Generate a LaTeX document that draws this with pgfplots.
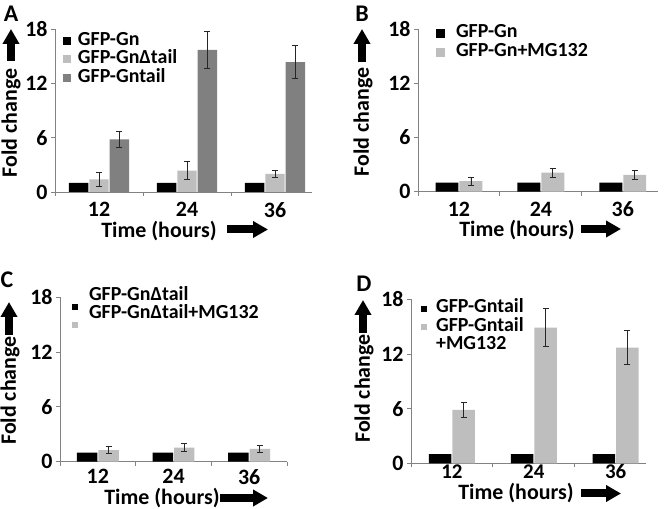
\documentclass[border=0pt]{standalone}
\usepackage{fontspec}
\setmainfont{Carlito}
\usepackage{pgfplots}
\pgfplotsset{compat=1.18}
\usetikzlibrary{arrows.meta}
\definecolor{lg}{RGB}{190,190,190}
\definecolor{dg}{RGB}{128,128,128}
\definecolor{ax}{RGB}{130,130,130}
\pgfplotsset{
  panel/.style={
    scale only axis,
    axis lines*=left,
    axis line style={ax, line width=0.9pt},
    ymin=0, ymax=18, ytick={0,6,12,18},
    xmin=-0.5,
    xtick={0,1,2}, xticklabels={12,24,36},
    minor xtick={-0.5,0.5,1.5,2.5},
    tick align=outside,
    major tick length=4bp, minor tick length=4bp,
    major x tick style={draw=none},
    minor x tick style={ax, line width=0.9pt},
    major y tick style={ax, line width=0.9pt},
    ticklabel style={font=\fontsize{22}{26}\selectfont\bfseries},
    xticklabel style={inner sep=1bp, yshift=-5bp},
    /pgf/number format/assume math mode=true,
    ybar=1bp,
    clip=false,
    legend style={draw=none, fill=none, inner sep=0pt, outer sep=0pt,
      font=\fontsize{20}{23}\selectfont\bfseries, anchor=north west,
      nodes={inner sep=0pt, text height=13bp, text depth=4.5bp},
      row sep=1bp},
    legend cell align=left,
  },
  eb/.style={error bars/.cd, y dir=both, y explicit,
    error bar style={black!85, line width=0.8pt},
    error mark options={rotate=90, black!85, mark size=3bp, line width=0.8pt}},
}
\newcommand{\ylab}[2]{%
  \node[rotate=90, inner sep=1bp, font=\fontsize{22}{26}\selectfont\bfseries] at (#1,#2) {Fold change};}
\newcommand{\xlab}[2]{%
  \node[inner sep=0bp, font=\fontsize{22}{26}\selectfont\bfseries] at (#1,#2) {Time (hours)};}
\newcommand{\harrow}[3]{%
  \draw[-{Triangle[width=16bp,length=15bp]}, line width=8bp] (#1,#3) -- (#2,#3);}
\newcommand{\varrow}[3]{%
  \draw[-{Triangle[width=16bp,length=15bp]}, line width=8bp] (#1,#2) -- (#1,#3);}
\newcommand{\plab}[3]{%
  \node[font=\fontsize{24}{28}\selectfont\bfseries] at (#1,#2) {#3};}
\begin{document}
\begin{tikzpicture}[x=1bp,y=1bp]
\path[use as bounding box] (0,0) rectangle (666,509);

% Panel A
\begin{axis}[panel, at={(55bp,317bp)}, anchor=south west,
  width=257bp, height=163bp, xmax=2.42, bar width=0.22,
  legend image code/.code={\fill[#1] (0bp,-4bp) rectangle (8bp,4bp);},
  legend style={at={(rel axis cs:0.031,0.98)},
    /tikz/every odd column/.append style={column sep=7bp}}]
\addplot[fill=black, draw=none] coordinates {(0,1) (1,1) (2,1)};
\addplot[fill=lg, draw=none, eb] coordinates {(0,1.4) +- (0,0.75) (1,2.35) +- (0,1.0) (2,2.0) +- (0,0.4)};
\addplot[fill=dg, draw=none, eb] coordinates {(0,5.8) +- (0,0.85) (1,15.7) +- (0,2.05) (2,14.35) +- (0,1.85)};
\legend{GFP-Gn, GFP-GnΔtail, GFP-Gntail}
\end{axis}
\plab{11}{495}{A}
\ylab{11}{386}
\varrow{11}{448}{480}
\xlab{159}{278}
\harrow{227}{268}{279.5}

% Panel B
\begin{axis}[panel, at={(418bp,317.3bp)}, anchor=south west,
  width=240bp, height=162.7bp, xmax=2.43, bar width=0.28,
  legend image code/.code={\fill[#1] (0bp,-4.5bp) rectangle (9bp,4.5bp);},
  legend style={at={(rel axis cs:0.075,1.025)},
    /tikz/every odd column/.append style={column sep=11bp}}]
\addplot[fill=black, draw=none] coordinates {(0,1) (1,1) (2,1)};
\addplot[fill=lg, draw=none, eb] coordinates {(0,1.18) +- (0,0.45) (1,2.1) +- (0,0.5) (2,1.85) +- (0,0.5)};
\legend{GFP-Gn, GFP-Gn+MG132}
\end{axis}
\plab{362}{495}{B}
\ylab{363}{387}
\varrow{362}{447}{480}
\xlab{517}{279}
\harrow{581}{621}{280}

% Panel C
\begin{axis}[panel, at={(60bp,47.3bp)}, anchor=south west,
  width=227bp, height=164.4bp, xmax=2.5, bar width=0.27,
  xticklabel style={yshift=2.5bp},
  legend image code/.code={\fill[#1,overlay] (0bp,-13.5bp) rectangle (6bp,-7.5bp);},
  legend style={at={(rel axis cs:0.053,1.06)},
    /tikz/every odd column/.append style={column sep=17bp}}]
\addplot[fill=black, draw=none] coordinates {(0,1) (1,1) (2,1)};
\addplot[fill=lg, draw=none, eb] coordinates {(0,1.28) +- (0,0.35) (1,1.55) +- (0,0.45) (2,1.4) +- (0,0.4)};
\legend{GFP-GnΔtail, GFP-GnΔtail+MG132}
\end{axis}
\plab{7}{229}{C}
\ylab{10}{118.5}
\varrow{9}{174}{207}
\xlab{162}{10.5}
\harrow{220}{268}{11}

% Panel D
\begin{axis}[panel, at={(411bp,45.7bp)}, anchor=south west,
  width=235bp, height=164bp, xmax=2.37, bar width=0.275,
  xticklabel style={yshift=9bp, font=\fontsize{21}{24}\selectfont\bfseries},
  legend image code/.code={\fill[#1] (0bp,-3bp) rectangle (6bp,3bp);},
  legend style={at={(rel axis cs:0.043,0.996)},
    /tikz/every odd column/.append style={column sep=9bp}}]
\addplot[fill=black, draw=none] coordinates {(0,1) (1,1) (2,1)};
\addlegendentry{GFP-Gntail}
\addplot[fill=lg, draw=none, eb] coordinates {(0,5.85) +- (0,0.85) (1,14.9) +- (0,2.1) (2,12.7) +- (0,1.9)};
\addlegendentry{GFP-Gntail}
\addlegendimage{empty legend}
\addlegendentry{+MG132}
\end{axis}
\plab{364}{225.5}{D}
\ylab{364}{120.5}
\varrow{363}{176}{209}
\xlab{516}{15.5}
\harrow{581}{621}{15.5}
\end{tikzpicture}
\end{document}
